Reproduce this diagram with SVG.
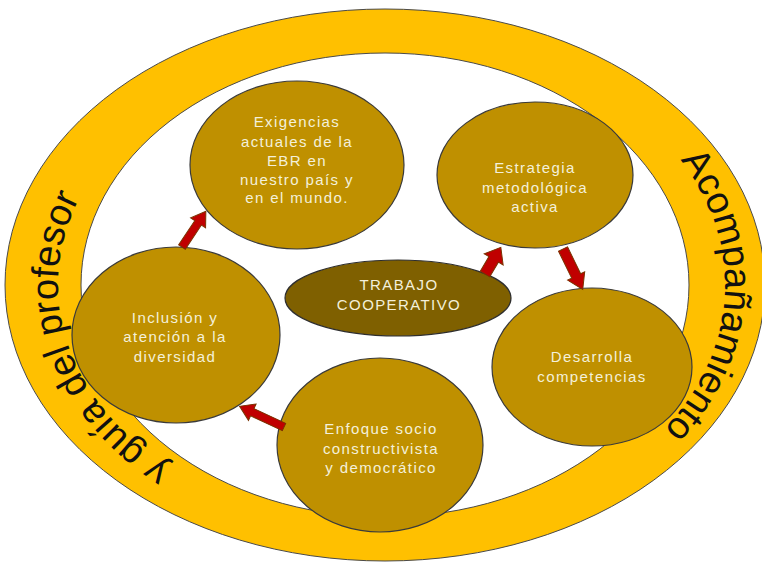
<svg xmlns="http://www.w3.org/2000/svg" xmlns:xlink="http://www.w3.org/1999/xlink" width="762" height="563" viewBox="0 0 762 563">
<style>
.ring{fill:#FFC000;stroke:#4a4a4a;stroke-width:1;fill-rule:evenodd}
.ringtxt{font-family:"Liberation Sans",Arial,sans-serif;font-size:38px;fill:#111}
.node{fill:#BF9000;stroke:#3a3a3a;stroke-width:1.2}
.center{fill:#7F6000;stroke:#2e2e2e;stroke-width:1.2}
.lbl{font-family:"Liberation Sans",Arial,sans-serif;font-size:15px;letter-spacing:1.4px;fill:#F4F0DA;text-anchor:middle}
.arrow{fill:#C00000;stroke:#7a3300;stroke-width:1}
</style>
<defs>
<path id="pathL" d="M385,42 A327,243 0 1 1 385,528 A327,243 0 1 1 385,42 Z"/>
<path id="pathR" d="M385,33 A340,252 0 1 1 385,537 A340,252 0 1 1 385,33 Z"/>
</defs>
<rect x="0" y="0" width="762" height="563" fill="#ffffff"/>
<g id="ring">
<path class="ring" d="M5,285 A380,276 0 1 0 765,285 A380,276 0 1 0 5,285 Z M81,285 A304,232 0 1 1 689,285 A304,232 0 1 1 81,285 Z"/>
<text class="ringtxt"><textPath xlink:href="#pathR" href="#pathR" startOffset="480" text-anchor="middle">Acompañamiento</textPath></text>
<text class="ringtxt"><textPath xlink:href="#pathL" href="#pathL" startOffset="71.3%" text-anchor="middle">y guía del profesor</textPath></text>
</g>
<g id="node-exigencias">
<ellipse class="node" cx="297" cy="165" rx="107" ry="84"/>
<text class="lbl" x="297" y="127">Exigencias</text>
<text class="lbl" x="297" y="147">actuales de la</text>
<text class="lbl" x="297" y="166">EBR en</text>
<text class="lbl" x="297" y="185">nuestro país y</text>
<text class="lbl" x="297" y="203">en el mundo.</text>
</g>
<g id="node-estrategia">
<ellipse class="node" cx="535" cy="175" rx="98" ry="73"/>
<text class="lbl" x="535" y="173">Estrategia</text>
<text class="lbl" x="535" y="193">metodológica</text>
<text class="lbl" x="535" y="212">activa</text>
</g>
<g id="node-inclusion">
<ellipse class="node" cx="176" cy="335" rx="104" ry="88"/>
<text class="lbl" x="175" y="323">Inclusión y</text>
<text class="lbl" x="175" y="342">atención a la</text>
<text class="lbl" x="175" y="362">diversidad</text>
</g>
<g id="node-desarrolla">
<ellipse class="node" cx="592" cy="367" rx="100" ry="79"/>
<text class="lbl" x="592" y="362">Desarrolla</text>
<text class="lbl" x="592" y="382">competencias</text>
</g>
<g id="node-enfoque">
<ellipse class="node" cx="380" cy="445" rx="103" ry="87"/>
<text class="lbl" x="381" y="434">Enfoque socio</text>
<text class="lbl" x="381" y="454">constructivista</text>
<text class="lbl" x="381" y="473">y democrático</text>
</g>
<g id="node-trabajo">
<ellipse class="center" cx="398" cy="298" rx="113" ry="38"/>
<text class="lbl" x="399" y="290">TRABAJO</text>
<text class="lbl" x="399" y="310">COOPERATIVO</text>
</g>
<g id="connectors">
<polygon class="arrow" transform="translate(182,247) rotate(-56.3)" points="0,-4 29,-4 29,-9 43,0 29,9 29,4 0,4"/>
<polygon class="arrow" transform="translate(485,274) rotate(-59.3)" points="0,-5.5 17,-5.5 17,-11 31,0 17,11 17,5.5 0,5.5"/>
<polygon class="arrow" transform="translate(563,249) rotate(64)" points="0,-5 30,-5 30,-9.5 45,0 30,9.5 30,5 0,5"/>
<polygon class="arrow" transform="translate(284,427) rotate(-155)" points="0,-4 35,-4 35,-9 49,0 35,9 35,4 0,4"/>
</g>
</svg>
